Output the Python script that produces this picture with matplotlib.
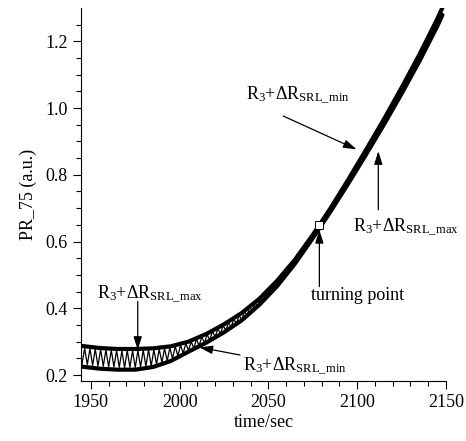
import numpy as np
import matplotlib
matplotlib.use('Agg')
import matplotlib.pyplot as plt

plt.rcParams['font.family'] = ['Liberation Serif', 'DejaVu Serif']
plt.rcParams['mathtext.fontset'] = 'custom'
plt.rcParams['mathtext.rm'] = 'Liberation Serif'
plt.rcParams['mathtext.it'] = 'Liberation Serif:italic'

# envelope curves R3+dR_SRL_max / R3+dR_SRL_min
env_t = [1945, 1955, 1965, 1975, 1985, 1995, 2005, 2015, 2025, 2035, 2045,
         2055, 2065, 2075, 2085, 2095, 2105, 2115, 2125, 2135, 2145, 2148]
env_max = [0.287, 0.281, 0.278, 0.278, 0.280, 0.286, 0.300, 0.323, 0.352, 0.386, 0.429,
           0.483, 0.546, 0.620, 0.700, 0.786, 0.875, 0.966, 1.061, 1.160, 1.266, 1.301]
env_min = [0.225, 0.219, 0.216, 0.216, 0.224, 0.242, 0.270, 0.297, 0.328, 0.364, 0.411,
           0.467, 0.534, 0.610, 0.690, 0.774, 0.861, 0.950, 1.043, 1.140, 1.244, 1.279]

# measured PR_75 signal (oscillating between the envelopes)
sig1_t = np.arange(1945.0, 2046.0, 1.5)
sig1_v = [0.232, 0.280, 0.231, 0.279, 0.229, 0.278, 0.227, 0.277, 0.226, 0.276,
          0.224, 0.275, 0.224, 0.274, 0.223, 0.273, 0.222, 0.274, 0.223, 0.273,
          0.222, 0.274, 0.224, 0.275, 0.226, 0.276, 0.227, 0.276, 0.232, 0.278,
          0.237, 0.280, 0.242, 0.282, 0.249, 0.286, 0.257, 0.290, 0.265, 0.295,
          0.273, 0.300, 0.280, 0.307, 0.288, 0.314, 0.296, 0.321, 0.305, 0.331,
          0.314, 0.339, 0.324, 0.348, 0.334, 0.357, 0.344, 0.367, 0.355, 0.378,
          0.366, 0.389, 0.380, 0.402, 0.394, 0.415, 0.408, 0.428]
sig2_t = np.arange(2047.5, 2148.0, 2.0)
sig2_v = [0.428, 0.451, 0.450, 0.473, 0.472, 0.496, 0.499, 0.522, 0.526, 0.548,
          0.555, 0.578, 0.586, 0.607, 0.616, 0.638, 0.648, 0.670, 0.680, 0.703,
          0.712, 0.737, 0.746, 0.771, 0.781, 0.808, 0.816, 0.844, 0.852, 0.878,
          0.886, 0.914, 0.921, 0.950, 0.957, 0.988, 0.994, 1.026, 1.031, 1.064,
          1.070, 1.104, 1.109, 1.144, 1.149, 1.187, 1.192, 1.230, 1.233, 1.270,
          1.276]

turn_t, turn_v = 2078.7, 0.650

fig = plt.figure(figsize=(4.66, 4.41), dpi=100)
ax = fig.add_axes([0.174, 0.136, 0.783, 0.846])

ax.plot(sig1_t, sig1_v, color='black', lw=0.9)
ax.plot(sig2_t, sig2_v, color='black', lw=0.9)
ax.plot(env_t, env_max, color='black', lw=3.0, solid_capstyle='round')
ax.plot(env_t, env_min, color='black', lw=3.0, solid_capstyle='round')
ax.plot([turn_t], [turn_v], marker='s', ms=6, mfc='white', mec='black', mew=0.7)

lab_max = r'R$_3$+ΔR$_{\mathrm{SRL\_max}}$'
lab_min = r'R$_3$+ΔR$_{\mathrm{SRL\_min}}$'
aprops = dict(arrowstyle='-|>,head_length=0.8,head_width=0.25', color='black',
              lw=0.9, shrinkA=0, shrinkB=0)
fs = 13

ax.text(1953.5, 0.428, lab_max, fontsize=fs, ha='left', va='baseline')
ax.annotate('', xy=(1976.4, 0.275), xytext=(1976.4, 0.420), arrowprops=aprops)

ax.text(2035.7, 0.215, lab_min, fontsize=fs, ha='left', va='baseline')
ax.annotate('', xy=(2011.1, 0.283), xytext=(2034.0, 0.260), arrowprops=aprops)

ax.text(2037.5, 1.026, lab_min, fontsize=fs, ha='left', va='baseline')
ax.annotate('', xy=(2099.7, 0.876), xytext=(2058.4, 0.976), arrowprops=aprops)

ax.text(2097.7, 0.629, lab_max, fontsize=fs, ha='left', va='baseline')
ax.annotate('', xy=(2111.9, 0.871), xytext=(2111.9, 0.695), arrowprops=aprops)

ax.text(2074.0, 0.425, 'turning point', fontsize=fs, ha='left', va='baseline')
ax.annotate('', xy=(2078.7, 0.635), xytext=(2078.7, 0.465), arrowprops=aprops)

ax.set_xlim(1944.5, 2150)
ax.set_ylim(0.182, 1.30)
ax.set_xticks([1950, 2000, 2050, 2100, 2150])
ax.set_xticks(np.arange(1950, 2151, 10), minor=True)
ax.set_yticks([0.2, 0.4, 0.6, 0.8, 1.0, 1.2])
ax.set_yticks(np.arange(0.2, 1.30, 0.05), minor=True)
ax.set_yticklabels(['0.2', '0.4', '0.6', '0.8', '1.0', '1.2'])

ax.spines['top'].set_visible(False)
ax.spines['right'].set_visible(False)
ax.tick_params(which='major', direction='out', length=6, width=0.8, labelsize=fs)
ax.tick_params(which='minor', direction='out', length=3.5, width=0.8)

ax.set_xlabel('time/sec', fontsize=fs, labelpad=2)
ax.set_ylabel('PR_75 (a.u.)', fontsize=fs, labelpad=6)

fig.savefig('out.png', dpi=100)
